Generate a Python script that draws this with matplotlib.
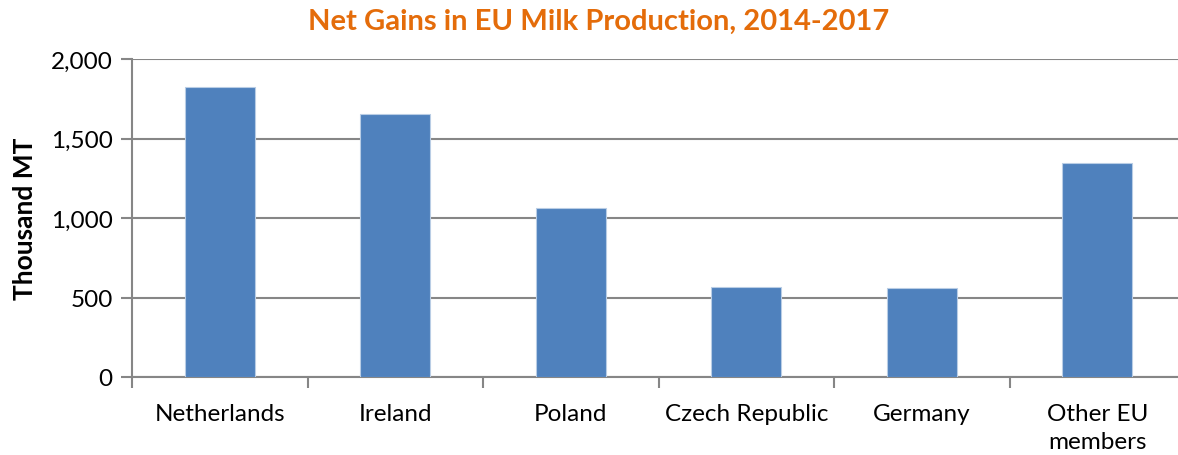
import matplotlib
matplotlib.use("Agg")
import matplotlib.pyplot as plt
from matplotlib.ticker import FuncFormatter

countries = ["Netherlands", "Ireland", "Poland", "Czech Republic", "Germany", "Other EU\nmembers"]
gains = [1822, 1655, 1063, 564, 562, 1344]
y_ticks = [0, 500, 1000, 1500, 2000]

plt.rcParams["font.family"] = ["Lato", "DejaVu Sans"]

fig = plt.figure(figsize=(11.78, 4.56), dpi=100)
ax = fig.add_axes([132 / 1178, 78 / 456, 1053 / 1178, 318 / 456])

x = list(range(len(countries)))
ax.bar(x, gains, width=0.4, color="#4F81BD", edgecolor="#B9CDE5", linewidth=0.8, zorder=3)

ax.set_xlim(-0.5, len(countries) - 0.5)
ax.set_ylim(0, 2000)
ax.set_yticks(y_ticks)
ax.yaxis.set_major_formatter(FuncFormatter(lambda v, p: f"{int(v):,}"))
ax.grid(axis="y", color="#868686", linewidth=1.5, zorder=0)

ax.set_xticks(x)
ax.set_xticklabels(countries, fontsize=17.5, linespacing=1.4)
ax.set_xticks([i + 0.5 for i in range(-1, len(countries))], minor=True)
ax.tick_params(axis="x", which="major", length=0, pad=19)
ax.tick_params(axis="x", which="minor", length=8, width=1.5, color="#868686")
ax.tick_params(axis="y", length=8, width=1.5, color="#868686", labelsize=17.5, pad=6)

for side in ["top", "right"]:
    ax.spines[side].set_visible(False)
for side in ["left", "bottom"]:
    ax.spines[side].set_color("#868686")
    ax.spines[side].set_linewidth(1.5)

ax.set_ylabel("Thousand MT", fontsize=19, fontweight="bold", labelpad=10)
fig.text(0.508, 0.952, "Net Gains in EU Milk Production, 2014-2017", ha="center", va="center",
         fontsize=21, fontweight="bold", color="#E46C0A")

fig.savefig("out.png", dpi=100)
